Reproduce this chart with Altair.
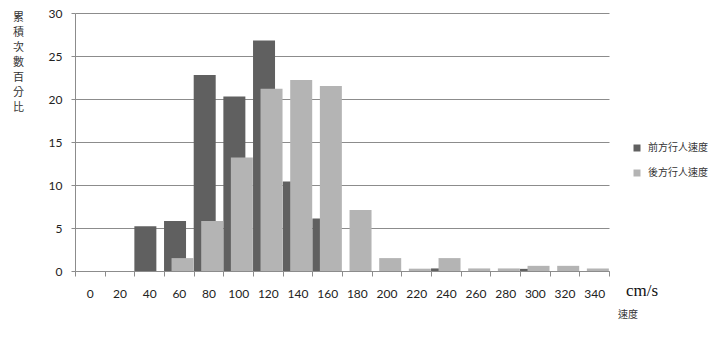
import altair as alt
import pandas as pd

speeds = [0, 20, 40, 60, 80, 100, 120, 140, 160, 180, 200, 220, 240, 260, 280, 300, 320, 340]
front = [0, 0, 5.2, 5.8, 22.8, 20.3, 26.8, 10.4, 6.1, 0, 0, 0, 0.3, 0, 0, 0.25, 0, 0]
rear = [0, 0, 0, 1.5, 5.8, 13.2, 21.2, 22.2, 21.5, 7.1, 1.5, 0.27, 1.5, 0.3, 0.3, 0.6, 0.6, 0.3]
series_names = ["前方行人速度", "後方行人速度"]
y_ticks = [0, 5, 10, 15, 20, 25, 30]
y_title = ["累", "積", "次", "數", "百", "分", "比"]
unit_text = ["cm/s"]
x_title = ["速度"]

labels = [str(s) for s in speeds]
df = pd.DataFrame({
    "speed": labels * 2,
    "value": front + rear,
    "series": [series_names[0]] * len(speeds) + [series_names[1]] * len(speeds),
})

GRID = "#8c8c8c"
CJK = "Noto Sans CJK TC"
LAT = "Lato"

color = alt.Color(
    "series:N",
    scale=alt.Scale(domain=series_names, range=["#606060", "#b4b4b4"]),
    legend=alt.Legend(
        title=None, orient="none", legendX=557, legendY=130,
        symbolType="square", symbolSize=49, symbolStrokeWidth=0,
        labelFont=CJK, labelFontSize=10, labelColor="#333333",
        labelOffset=6, rowPadding=15, labelLimit=200,
    ),
)

x = alt.X(
    "speed:N", sort=labels,
    scale=alt.Scale(paddingInner=0, paddingOuter=0),
    axis=alt.Axis(
        title=None, labelAngle=0, tickBand="extent", tickSize=5, tickColor=GRID,
        domainColor=GRID, labelFont=LAT, labelFontSize=12, labelColor="#222222",
        labelPadding=12, grid=False,
    ),
)
y = alt.Y(
    "value:Q",
    scale=alt.Scale(domain=[0, 30], nice=False),
    axis=alt.Axis(
        values=y_ticks, grid=True, gridColor=GRID, gridWidth=1, gridOpacity=1,
        tickSize=4, tickColor=GRID, domainColor=GRID,
        labelFont=LAT, labelFontSize=12, labelColor="#222222", labelPadding=9,
        title=y_title, titleAngle=0, titleAlign="center", titleBaseline="top",
        titleX=-57, titleY=-2, titleLineHeight=15, titleFont=CJK,
        titleFontSize=11, titleFontWeight="normal", titleColor="#333333",
    ),
)

base = alt.Chart(df)
dark = base.transform_filter(alt.datum.series == series_names[0]).mark_bar(
    width=22, xOffset=-3.8
).encode(x=x, y=y, color=color)
light = base.transform_filter(alt.datum.series == series_names[1]).mark_bar(
    width=22, xOffset=3.7
).encode(x=x, y=y, color=color)

unit = alt.Chart(pd.DataFrame({"t": unit_text})).mark_text(
    font="Liberation Serif", fontSize=17, color="#111111", align="center", baseline="middle"
).encode(x=alt.value(567), y=alt.value(278), text="t:N")
xt = alt.Chart(pd.DataFrame({"t": x_title})).mark_text(
    font=CJK, fontSize=10, color="#333333", align="center", baseline="middle"
).encode(x=alt.value(553), y=alt.value(302), text="t:N")

chart = alt.layer(dark, light, unit, xt).properties(
    width=534, height=258,
    autosize=alt.AutoSizeParams(type="none"),
    padding={"left": 75, "top": 13, "right": 100, "bottom": 69},
).configure_view(stroke=None)

chart.save("out.html", embed_options={"renderer": "svg", "actions": False})
